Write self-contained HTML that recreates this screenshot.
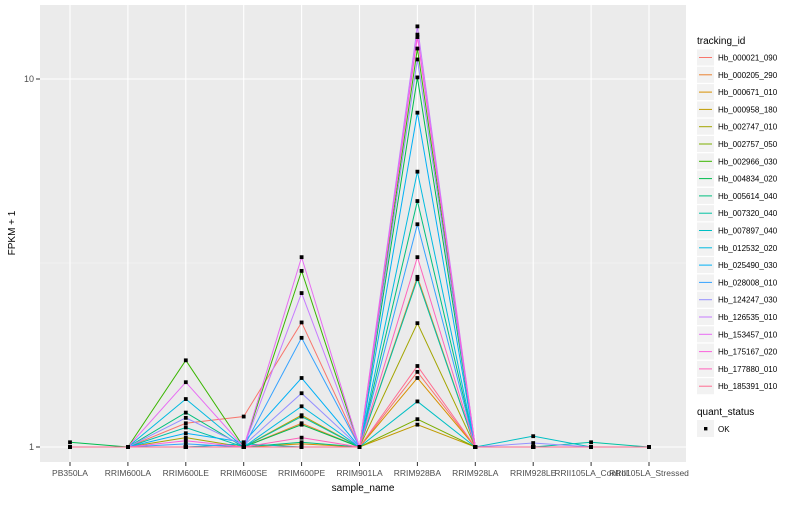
<!DOCTYPE html>
<html><head><meta charset="utf-8"><style>
body{margin:0;background:#fff;font-family:"Liberation Sans",sans-serif}
svg text{font-family:"Liberation Sans",sans-serif}
</style></head><body>
<svg id="chart" width="800" height="500" xmlns="http://www.w3.org/2000/svg">
<rect x="40" y="5" width="646" height="457" fill="#ebebeb"/>
<g id="grid"></g><g id="lines"></g><g id="pts"></g><g id="axes"></g><g id="legend"></g>
<text x="363" y="491" font-size="10" text-anchor="middle" fill="#000">sample_name</text>
<text x="15" y="233" font-size="10" text-anchor="middle" fill="#000" transform="rotate(-90 15 233)">FPKM + 1</text>
</svg>
<script>
const samples=["PB350LA","RRIM600LA","RRIM600LE","RRIM600SE","RRIM600PE","RRIM901LA","RRIM928BA","RRIM928LA","RRIM928LE","RRII105LA_Control","RRII105LA_Stressed"];
const ids=["Hb_000021_090","Hb_000205_290","Hb_000671_010","Hb_000958_180","Hb_002747_010","Hb_002757_050","Hb_002966_030","Hb_004834_020","Hb_005614_040","Hb_007320_040","Hb_007897_040","Hb_012532_020","Hb_025490_030","Hb_028008_010","Hb_124247_030","Hb_126535_010","Hb_153457_010","Hb_175167_020","Hb_177880_010","Hb_185391_010"];
const colors=["#F8766D","#EA8331","#D89000","#C09B00","#A3A500","#7CAE00","#39B600","#00BB4E","#00BF7D","#00C1A3","#00BFC4","#00BAE0","#00B0F6","#35A2FF","#9590FF","#C77CFF","#E76BF3","#FA62DB","#FF62BC","#FF6C91"];
const s0=[1,1,1.16,1.21,2.18,1,1.6,1,1,1,1];
const s1=[1,1,1,1,1.16,1,2.9,1,1,1,1];
const s2=[1,1,1,1,1.02,1,1.54,1,1,1,1];
const s3=[1,1,1,1,1.22,1,1.15,1,1,1,1];
const s4=[1,1,1.06,1,1,1,2.17,1,1,1,1];
const s5=[1,1,1,1,1,1,1.19,1,1,1,1];
const s6=[1,1,1.72,1,3.01,1,12.1,1,1,1,1];
const s7=[1.03,1,1,1,1.15,1,10.1,1,1,1,1];
const s8=[1,1,1.24,1,1.03,1,4.66,1,1,1,1];
const s9=[1,1,1.13,1,1.21,1,2.86,1,1,1.03,1];
const s10=[1,1,1,1.02,1,1,1.33,1,1.07,1,1];
const s11=[1,1,1.35,1,1.29,1,5.6,1,1,1,1];
const s12=[1,1,1.09,1.03,1.54,1,8.1,1,1,1,1];
const s13=[1,1,1.02,1,1.98,1,4.03,1,1,1,1];
const s14=[1,1,1.2,1.01,1.4,1,11.3,1,1.025,1,1];
const s15=[1,1,1,1,2.62,1,13.9,1,1,1,1];
const s16=[1,1,1.5,1,3.28,1,13.2,1,1,1,1];
const s17=[1,1,1.04,1,1,1,13.0,1,1,1,1];
const s18=[1,1,1,1,1.06,1,3.28,1,1,1,1];
const s19=[1,1,1,1,1,1,1.66,1,1,1,1];
const series=[s0,s1,s2,s3,s4,s5,s6,s7,s8,s9,s10,s11,s12,s13,s14,s15,s16,s17,s18,s19];
const yTicks=[1,10];
const NS="http://www.w3.org/2000/svg";
function xs(i){return 70+i*57.9;}
function ys(v){return 447-368*Math.log10(v);}
function mk(t,a,p){const e=document.createElementNS(NS,t);for(const k in a)e.setAttribute(k,a[k]);p.appendChild(e);return e;}
const grid=document.getElementById('grid'),lines=document.getElementById('lines'),pts=document.getElementById('pts'),axes=document.getElementById('axes'),leg=document.getElementById('legend');
let g=mk('line',{x1:40,x2:686,y1:ys(Math.sqrt(10)),y2:ys(Math.sqrt(10)),stroke:'#f5f5f5','stroke-width':0.6},grid);


yTicks.forEach(t=>{const y=ys(t);
 let l=mk('line',{x1:40,x2:686,y1:y,y2:y,stroke:'#fff','stroke-width':1.1},grid);
 
 
 mk('line',{x1:36,x2:40,y1:y,y2:y,stroke:'#333'},axes);
 let tx=mk('text',{x:34,y:y+3,'font-size':9,'text-anchor':'end',fill:'#4d4d4d'},axes);tx.textContent=t;
 
 
});
samples.forEach((s,i)=>{const x=xs(i);
 let l=mk('line',{x1:x,x2:x,y1:5,y2:462,stroke:'#fff','stroke-width':1.1},grid);
 
 
 mk('line',{x1:x,x2:x,y1:462,y2:466,stroke:'#333'},axes);
 let tx=mk('text',{x:x,y:476,'font-size':8.5,'text-anchor':'middle',fill:'#4d4d4d'},axes);tx.textContent=s;
 
 
});
series.forEach((vals,k)=>{
 const p=mk('polyline',{points:vals.map((v,i)=>xs(i)+','+ys(v)).join(' '),fill:'none',stroke:colors[k],'stroke-width':1},lines);
 
 
});
series.forEach((vals,k)=>{vals.forEach((v,i)=>{
 const r=mk('rect',{x:xs(i)-1.9,y:ys(v)-1.9,width:3.8,height:3.8,fill:'#000'},pts);
 
 
});});
let tt=mk('text',{x:697,y:44,'font-size':10,fill:'#000'},leg);tt.textContent='tracking_id';


ids.forEach((id,k)=>{const y=49+k*17.3;
 const gEl=mk('g',{},leg);
 
 
 mk('rect',{x:697,y:y+0.5,width:17,height:16,fill:'#f2f2f2'},gEl);
 mk('line',{x1:699,x2:712,y1:y+8.5,y2:y+8.5,stroke:colors[k],'stroke-width':1},gEl);
 const t=mk('text',{x:718,y:y+11.5,'font-size':8,fill:'#000'},gEl);t.textContent=id;
});
let qt=mk('text',{x:697,y:415,'font-size':10,fill:'#000'},leg);qt.textContent='quant_status';


const qg=mk('g',{},leg);


mk('rect',{x:697,y:420,width:17,height:17,fill:'#f2f2f2'},qg);
mk('rect',{x:704,y:427,width:3.4,height:3.4,fill:'#000'},qg);
const ot=mk('text',{x:718,y:432,'font-size':8,fill:'#000'},qg);ot.textContent='OK';
</script>
</body></html>
